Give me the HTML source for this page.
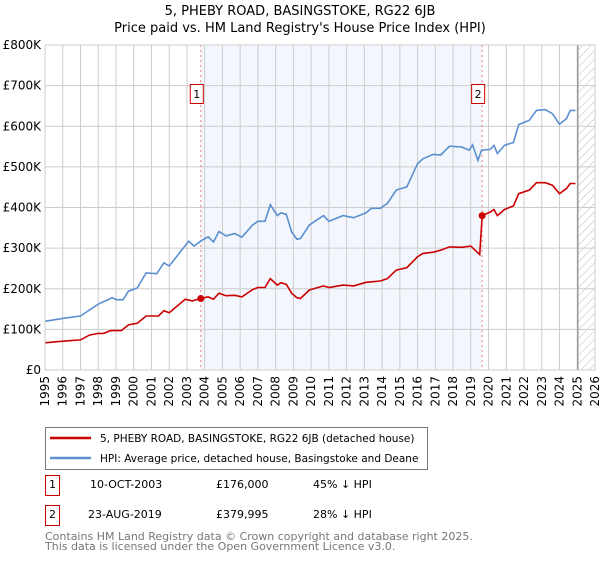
<!DOCTYPE html>
<html><head><meta charset="utf-8"><style>
body{margin:0;background:#fff;font-family:"DejaVu Sans","Liberation Sans",sans-serif;}
svg text{font-family:"DejaVu Sans","Liberation Sans",sans-serif;}
</style></head><body>
<svg id="chart" width="600" height="560" viewBox="0 0 600 560" xmlns="http://www.w3.org/2000/svg">
<defs><pattern id="hatch" width="6" height="6" patternUnits="userSpaceOnUse" patternTransform="rotate(45)"><line x1="0" y1="0" x2="0" y2="6" stroke="#bbb" stroke-width="1"/></pattern></defs>
<text x="300" y="15" text-anchor="middle" font-size="13">5, PHEBY ROAD, BASINGSTOKE, RG22 6JB</text>
<text x="300" y="32" text-anchor="middle" font-size="13">Price paid vs. HM Land Registry's House Price Index (HPI)</text>
<g id="plot"></g>
<g>
<rect x="45.5" y="427.5" width="382" height="42" fill="#fff" stroke="#777"/>
<line x1="50" y1="438" x2="91" y2="438" stroke="#cc0000" stroke-width="2.5"/>
<text x="100" y="442" font-size="10.5">5, PHEBY ROAD, BASINGSTOKE, RG22 6JB (detached house)</text>
<line x1="50" y1="458" x2="91" y2="458" stroke="#5b8fd0" stroke-width="2.5"/>
<text x="100" y="462" font-size="10.5">HPI: Average price, detached house, Basingstoke and Deane</text>
</g>
<g font-size="11">
<rect x="45.5" y="475.5" width="14" height="20" fill="#fff" stroke="#cc0000"/><text x="52.5" y="488" text-anchor="middle">1</text>
<text x="90" y="488">10-OCT-2003</text><text x="216" y="488">£176,000</text><text x="313" y="488">45% ↓ HPI</text>
<rect x="45.5" y="505.5" width="14" height="20" fill="#fff" stroke="#cc0000"/><text x="52.5" y="518" text-anchor="middle">2</text>
<text x="88" y="518">23-AUG-2019</text><text x="216" y="518">£379,995</text><text x="313" y="518">28% ↓ HPI</text>
</g>
<text x="45" y="540" font-size="11" fill="#777">Contains HM Land Registry data © Crown copyright and database right 2025.</text>
<text x="45" y="550" font-size="11" fill="#777">This data is licensed under the Open Government Licence v3.0.</text>
</svg>
<script>
const hpiYears=[1995,1996,1997,1998,1998.8,1999,1999.4,1999.7,2000.2,2000.7,2001.3,2001.7,2002,2003.1,2003.4,2003.8,2004.2,2004.5,2004.8,2005.2,2005.7,2006.1,2006.7,2007,2007.4,2007.7,2008.1,2008.3,2008.6,2008.9,2009.2,2009.4,2009.9,2010.7,2011,2011.8,2012.4,2013.1,2013.4,2013.9,2014.3,2014.8,2015.4,2016,2016.3,2016.9,2017.3,2017.8,2018.5,2018.9,2019.1,2019.4,2019.6,2020.1,2020.3,2020.5,2020.9,2021.4,2021.7,2022.3,2022.7,2023.2,2023.6,2024,2024.4,2024.6,2024.9];
const hpiValues=[120,127,133,162,178,173,173,194,202,239,237,264,256,317,305,318,328,315,341,330,336,327,357,366,366,407,380,387,383,340,322,324,357,380,366,380,375,387,398,398,410,443,451,508,520,531,529,551,549,541,554,516,541,543,553,533,553,560,604,615,639,641,631,605,619,639,639];
const priceYears=[1995,1996,1997,1997.5,1998,1998.3,1998.7,1999.3,1999.7,2000.2,2000.7,2001.4,2001.7,2002,2002.9,2003.3,2003.78,2004.2,2004.5,2004.8,2005.2,2005.7,2006.1,2006.7,2007,2007.4,2007.7,2008.1,2008.3,2008.6,2008.9,2009.2,2009.4,2009.9,2010.7,2011,2011.8,2012.4,2013.1,2013.9,2014.3,2014.8,2015.4,2016,2016.3,2016.9,2017.3,2017.8,2018.5,2019,2019.5,2019.64,2020.1,2020.3,2020.5,2020.9,2021.4,2021.7,2022.3,2022.7,2023.2,2023.6,2024,2024.4,2024.6,2024.9];
const priceValues=[67,71,74,86,90,90,97,97,111,115,133,133,146,141,174,170,176,180,174,189,183,184,180,198,203,203,225,209,215,211,189,178,176,197,207,203,209,207,216,219,225,246,252,279,287,290,295,303,302,305,284,380,389,395,380,395,404,434,443,461,461,455,434,447,459,459];
const saleYears=[2003.78,2019.64];
const saleValues=[176,379.995];
const saleLabels=["1","2"];
const yTicks=[0,100,200,300,400,500,600,700,800];
const yTickLabels=["£0","£100K","£200K","£300K","£400K","£500K","£600K","£700K","£800K"];
const xTicks=[1995,1996,1997,1998,1999,2000,2001,2002,2003,2004,2005,2006,2007,2008,2009,2010,2011,2012,2013,2014,2015,2016,2017,2018,2019,2020,2021,2022,2023,2024,2025,2026];

const X0=45,X1=595,Y0=370,Y1=45,yr0=1995,yr1=2026,vmax=800,dataEnd=2025.03;
const sx=y=>X0+(y-yr0)/(yr1-yr0)*(X1-X0);
const sy=v=>Y0-v/vmax*(Y0-Y1);
const NS="http://www.w3.org/2000/svg";
const g=document.getElementById('plot');
function mk(t,a){const e=document.createElementNS(NS,t);for(const k in a)e.setAttribute(k,a[k]);g.appendChild(e);return e;}

let e=mk('rect',{x:sx(saleYears[0]),y:Y1,width:sx(saleYears[1])-sx(saleYears[0]),height:Y0-Y1,fill:'#eef3fc',opacity:0.7});


e=mk('rect',{x:sx(dataEnd),y:Y1,width:X1-sx(dataEnd),height:Y0-Y1,fill:'url(#hatch)'});


yTicks.forEach((v,i)=>{
  let l=mk('line',{x1:X0,x2:X1,y1:sy(v),y2:sy(v),stroke:'#ccc','stroke-width':1});
  
  
  let t=mk('text',{x:X0-4,y:sy(v)+4,'text-anchor':'end','font-size':12});
  t.textContent=yTickLabels[i];
  
  
});
xTicks.forEach(y=>{
  let l=mk('line',{x1:sx(y),x2:sx(y),y1:Y1,y2:Y0,stroke:'#ccc','stroke-width':1});
  
  
  let t=mk('text',{x:0,y:0,'text-anchor':'end','font-size':12,transform:`translate(${sx(y)+4},${Y0+6}) rotate(-90)`});
  t.textContent=y;
  
  
});
e=mk('line',{x1:sx(dataEnd),x2:sx(dataEnd),y1:Y1,y2:Y0,stroke:'#999','stroke-width':1.5});


saleYears.forEach((y,i)=>{
  let l=mk('line',{x1:sx(y),x2:sx(y),y1:Y1,y2:Y0,stroke:'#f08080','stroke-width':1,'stroke-dasharray':'2,3'});
  
  
});
const path=(xs,vs)=>xs.map((x,i)=>(i?'L':'M')+sx(x).toFixed(1)+','+sy(vs[i]).toFixed(1)).join('');
e=mk('path',{d:path(hpiYears,hpiValues),fill:'none',stroke:'#5b8fd0','stroke-width':1.6});


e=mk('path',{d:path(priceYears,priceValues),fill:'none',stroke:'#cc0000','stroke-width':1.6});


saleYears.forEach((y,i)=>{
  let c=mk('circle',{cx:sx(y),cy:sy(saleValues[i]),r:3.5,fill:'#cc0000'});
  
  
  let r=mk('rect',{x:sx(y)-10.5,y:84.5,width:13,height:19,fill:'#fff',stroke:'#cc0000'});
  
  
  let t=mk('text',{x:sx(y)-4,y:98,'text-anchor':'middle','font-size':11});
  t.textContent=saleLabels[i];
  
  
});
e=mk('rect',{x:X0,y:Y1,width:X1-X0,height:Y0-Y1,fill:'none',stroke:'#ccc'});


</script>
</body></html>
